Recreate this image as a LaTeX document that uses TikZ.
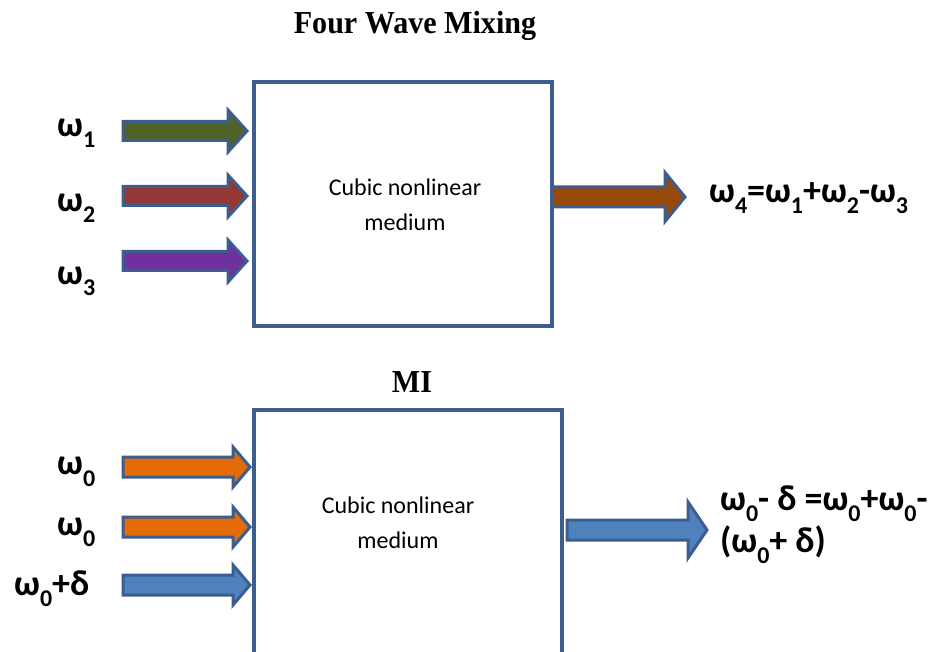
\documentclass[tikz,border=0pt]{standalone}
\usepackage{fontspec}
\setmainfont{Liberation Serif}
\newfontfamily\calfont{Carlito}
\usetikzlibrary{positioning}
\definecolor{edgeblue}{HTML}{3B5E8F}
\definecolor{olivegreen}{HTML}{4F6228}
\definecolor{darkred}{HTML}{953735}
\definecolor{purpleA}{HTML}{7030A0}
\definecolor{brownA}{HTML}{984807}
\definecolor{orangeA}{HTML}{E36C09}
\definecolor{blueA}{HTML}{4F81BD}
\newcommand\sbs[1]{\raisebox{-11pt}{\fontsize{24}{24}\selectfont #1}}
% block arrow: fill colour, start coordinate, shaft length, tip length, shaft half, head half
\newcommand\blockarrow[6]{%
  \draw[arrowline,fill=#1] (#2) ++(0,-#5) -- ++(#3,0) -- ++(0,-#6+#5) -- ++(#4,#6)
    -- ++(-#4,#6) -- ++(0,-#6+#5) -- ++(-#3,0) -- cycle;}
\tikzset{
  arrowline/.style={draw=edgeblue,line width=3pt,line join=miter},
  medium/.style={draw=edgeblue,line width=3.2pt,fill=white},
  boxtext/.style={font=\calfont\fontsize{24}{34.5}\selectfont,align=center,inner sep=0pt},
  wlabel/.style={font=\calfont\bfseries\fontsize{36}{40}\selectfont,inner sep=0pt,anchor=base west},
  title/.style={font=\bfseries\fontsize{32}{36}\selectfont,inner sep=0pt,anchor=base,xscale=0.94}
}
\begin{document}
\begin{tikzpicture}[x=1pt,y=-1pt]
\useasboundingbox (0,0) rectangle (935,652);
\clip (0,0) rectangle (935,652);
% ---------- Four wave mixing ----------
\node[title] (t1) at (415,34) {Four Wave Mixing};
\draw[medium] (254,82) rectangle (552,326);
\node[boxtext] (c1) at (405,205) {Cubic nonlinear\\medium};
\coordinate (a1) at (123,131);
\coordinate (a2) at (123,196);
\coordinate (a3) at (123,261);
\coordinate (ao) at (552,197);
\blockarrow{olivegreen}{a1}{105}{19}{9.5}{21}
\blockarrow{darkred}{a2}{105}{19}{9.5}{21}
\blockarrow{purpleA}{a3}{105}{19}{9.5}{21}
\blockarrow{brownA}{ao}{113}{20}{10}{24.5}
\node[wlabel] (w1) at (57,137) {ω\sbs{1}};
\node[wlabel] (w2) at (57,212) {ω\sbs{2}};
\node[wlabel] (w3) at (57,285) {ω\sbs{3}};
\node[wlabel] (w4) at (709,203) {ω\sbs{4}=ω\sbs{1}+ω\sbs{2}-ω\sbs{3}};
% ---------- MI ----------
\node[title] (t2) at (412,392) {MI};
\draw[medium] (254,410) rectangle (562,700);
\node[boxtext] (c2) at (398,523) {Cubic nonlinear\\medium};
\coordinate (b1) at (123,467);
\coordinate (b2) at (123,527);
\coordinate (b3) at (123,585);
\coordinate (bo) at (567,530);
\blockarrow{orangeA}{b1}{110}{17}{10}{20}
\blockarrow{orangeA}{b2}{110}{17}{10}{20}
\blockarrow{blueA}{b3}{110}{17}{10}{20}
\blockarrow{blueA}{bo}{121}{19}{10}{28}
\node[wlabel] (v1) at (57,475) {ω\sbs{0}};
\node[wlabel] (v2) at (57,535) {ω\sbs{0}};
\node[wlabel] (v3) at (14,595) {ω\sbs{0}+δ};
\node[wlabel] (vo1) at (720,510) {ω\sbs{0}- δ =ω\sbs{0}+ω\sbs{0}-};
\node[wlabel] (vo2) at (720,552) {(ω\sbs{0}+ δ)};
\end{tikzpicture}
\end{document}
